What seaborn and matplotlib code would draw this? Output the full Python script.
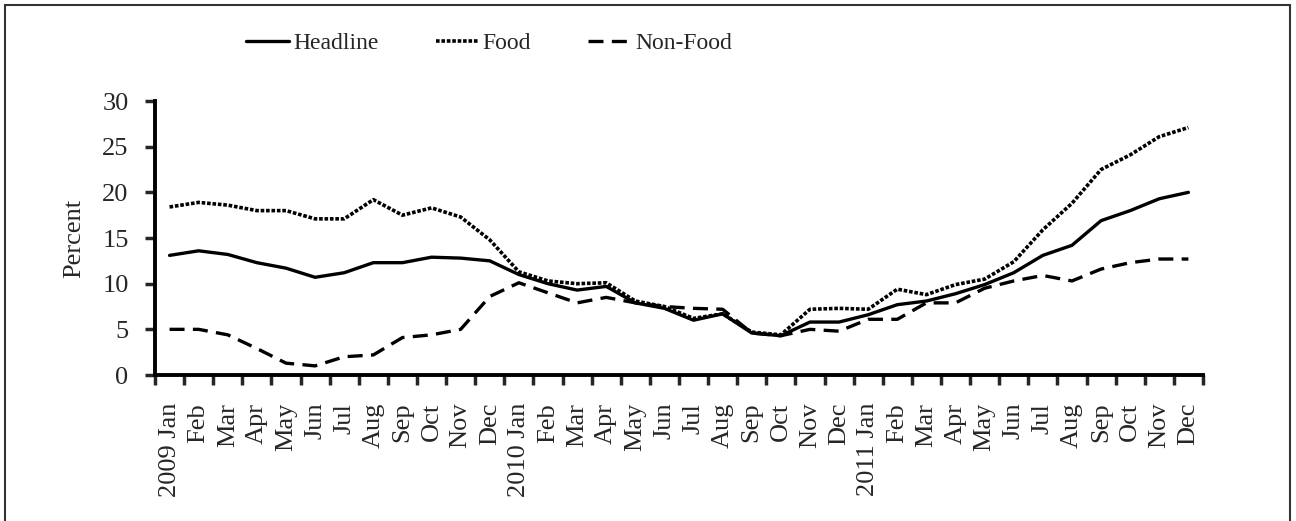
import matplotlib
matplotlib.use('Agg')
import matplotlib.pyplot as plt
from matplotlib.patches import Rectangle
import numpy as np
import pandas as pd
import seaborn as sns

months = ['2009 Jan', 'Feb', 'Mar', 'Apr', 'May', 'Jun', 'Jul', 'Aug', 'Sep',
          'Oct', 'Nov', 'Dec',
          '2010 Jan', 'Feb', 'Mar', 'Apr', 'May', 'Jun', 'Jul', 'Aug', 'Sep',
          'Oct', 'Nov', 'Dec',
          '2011 Jan', 'Feb', 'Mar', 'Apr', 'May', 'Jun', 'Jul', 'Aug', 'Sep',
          'Oct', 'Nov', 'Dec']

headline = [13.1, 13.6, 13.2, 12.3, 11.7, 10.7, 11.2, 12.3, 12.3, 12.9, 12.8, 12.5,
            11.0, 10.0, 9.3, 9.7, 7.9, 7.3, 6.0, 6.7, 4.6, 4.3, 5.8, 5.8,
            6.6, 7.7, 8.1, 8.9, 9.9, 11.2, 13.1, 14.2, 16.9, 18.0, 19.3, 20.0]

food = [18.4, 18.9, 18.6, 18.0, 18.0, 17.1, 17.1, 19.2, 17.5, 18.3, 17.3, 14.8,
        11.3, 10.3, 10.0, 10.1, 8.1, 7.5, 6.2, 6.7, 4.7, 4.4, 7.2, 7.3,
        7.2, 9.4, 8.8, 9.9, 10.5, 12.4, 15.9, 18.8, 22.5, 24.1, 26.1, 27.1]

non_food = [5.0, 5.0, 4.4, 2.9, 1.3, 1.0, 2.0, 2.2, 4.1, 4.4, 5.0, 8.6,
            10.1, 9.0, 7.9, 8.5, 7.9, 7.5, 7.3, 7.2, 4.6, 4.3, 5.0, 4.8,
            6.1, 6.1, 7.9, 7.9, 9.5, 10.3, 10.9, 10.3, 11.6, 12.3, 12.7, 12.7]


def main():
    sns.set_theme(style='white')
    plt.rcParams['font.family'] = ['Liberation Serif', 'DejaVu Serif']

    df = pd.DataFrame({'idx': np.arange(len(months)),
                       'Headline': headline,
                       'Food': food,
                       'Non-Food': non_food})

    fig = plt.figure(figsize=(12.96, 5.21), dpi=100)
    ax = fig.add_axes([0.1196, 0.2802, 0.8086, 0.5259])

    sns.lineplot(data=df, x='idx', y='Headline', ax=ax, color='black',
                 linewidth=2.4, linestyle='-', label='Headline')
    sns.lineplot(data=df, x='idx', y='Food', ax=ax, color='black',
                 linewidth=2.6, linestyle=(0, (1.0, 0.5)), label='Food')
    sns.lineplot(data=df, x='idx', y='Non-Food', ax=ax, color='black',
                 linewidth=2.4, linestyle=(0, (4.5, 2.5)), label='Non-Food')

    ax.set_xlim(-0.5, len(months) - 0.5)
    ax.set_ylim(0, 30)
    ax.set_yticks(range(0, 31, 5))
    ax.tick_params(axis='y', labelsize=19, length=7, width=2.5,
                   direction='out', left=True, pad=12)

    # ticks between months, labels centered on months
    ax.set_xticks(np.arange(-0.5, len(months), 1.0))
    ax.set_xticklabels([])
    ax.set_xticks(np.arange(len(months)), minor=True)
    ax.set_xticklabels(months, minor=True, rotation=90)
    ax.tick_params(axis='x', which='major', length=7, width=2.5,
                   direction='out', bottom=True)
    ax.tick_params(axis='x', which='minor', length=0, labelsize=19, pad=20)

    ax.set_xlabel('')
    ax.set_ylabel('Percent', fontsize=19, labelpad=12)

    sns.despine(ax=ax)
    for s in ['left', 'bottom']:
        ax.spines[s].set_linewidth(2.8)
        ax.spines[s].set_color('black')

    ax.legend(loc='upper left', bbox_to_anchor=(225 / 1296, 1 - 11 / 521),
              bbox_transform=fig.transFigure, ncol=3, frameon=False,
              fontsize=17, handlelength=1.8, handletextpad=0.2,
              columnspacing=2.4)

    # frame around the whole chart
    fig.patches.append(Rectangle((5 / 1296, -0.01), 1285 / 1296, 1 - 5 / 521 + 0.01,
                                 transform=fig.transFigure, fill=False,
                                 edgecolor='#333333', linewidth=1.5))

    fig.savefig('out.png', dpi=100)


if __name__ == '__main__':
    main()
